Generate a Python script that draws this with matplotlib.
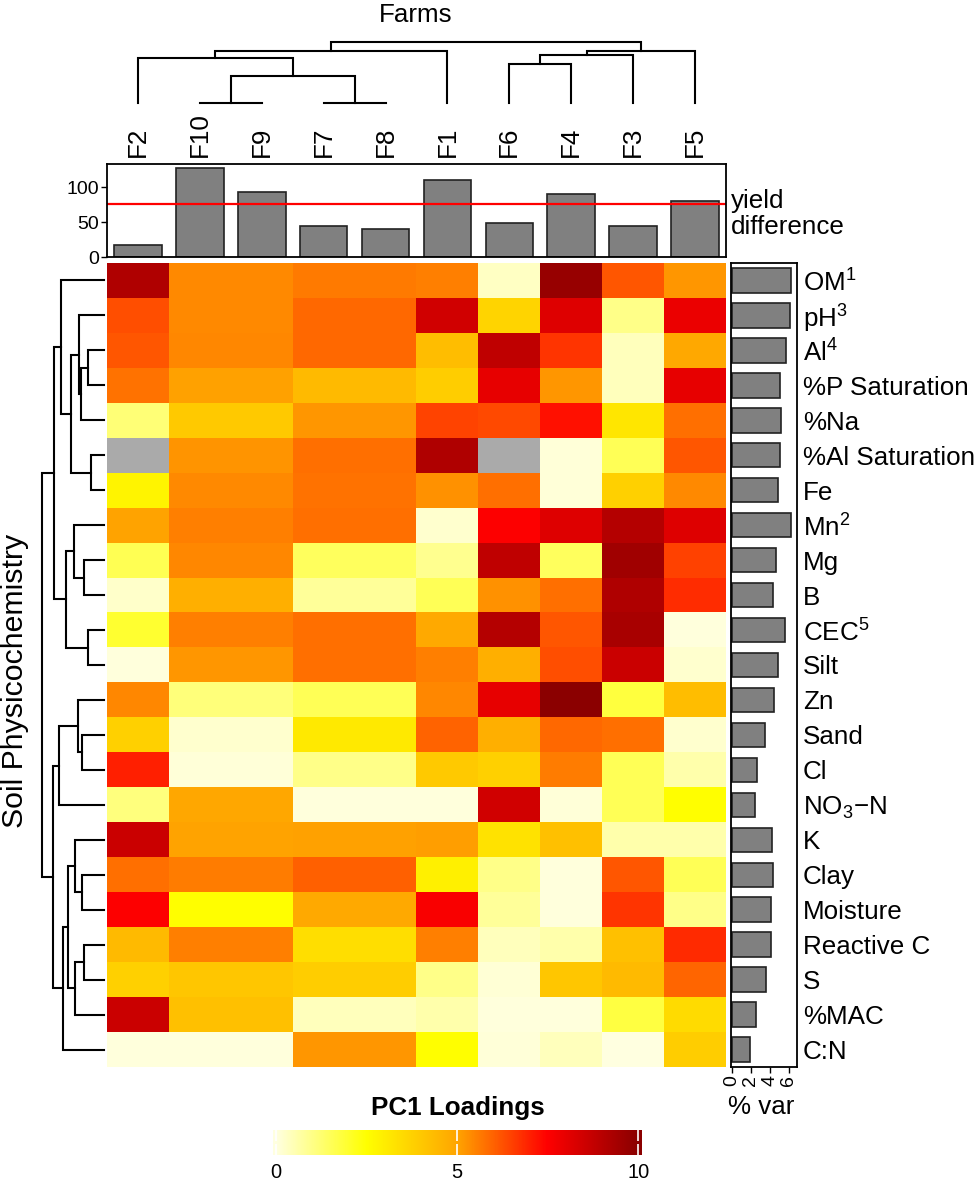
import numpy as np
import matplotlib
matplotlib.use('Agg')
import matplotlib.pyplot as plt
from matplotlib.colors import LinearSegmentedColormap

plt.rcParams['font.family'] = ['Liberation Sans', 'DejaVu Sans']
plt.rcParams['mathtext.fontset'] = 'custom'
plt.rcParams['mathtext.rm'] = 'Liberation Sans'
plt.rcParams['mathtext.it'] = 'Liberation Sans:italic'
plt.rcParams['mathtext.bf'] = 'Liberation Sans:bold'

# ---------------- data ----------------
farms = ['F2', 'F10', 'F9', 'F7', 'F8', 'F1', 'F6', 'F4', 'F3', 'F5']
yield_diff = [17, 127, 93, 45, 40, 110, 49, 90, 45, 80]
yield_ref = 76

variables = ['OM$^1$', 'pH$^3$', 'Al$^4$', '%P Saturation', '%Na', '%Al Saturation',
             'Fe', 'Mn$^2$', 'Mg', 'B', 'CEC$^5$', 'Silt', 'Zn', 'Sand', 'Cl',
             'NO$_3$\u2212N', 'K', 'Clay', 'Moisture', 'Reactive C', 'S', '%MAC', 'C:N']
pct_var = [6.18, 6.1, 5.65, 5.05, 5.12, 5.05, 4.84, 6.18, 4.63, 4.28, 5.54, 4.88,
           4.42, 3.47, 2.67, 2.47, 4.26, 4.37, 4.06, 4.14, 3.6, 2.54, 1.9]

nan = np.nan
loadings = [
    [9.2, 5.4, 5.4, 5.65, 5.65, 5.55, 0.35, 9.7, 6.2, 5.2],    # OM
    [6.3, 5.4, 5.4, 5.9, 5.9, 8.5, 3.7, 8.2, 1.0, 7.9],        # pH
    [6.2, 5.45, 5.45, 5.9, 5.9, 4.3, 8.85, 6.7, 0.4, 4.9],     # Al
    [5.75, 5.05, 5.05, 4.4, 4.4, 3.9, 8.0, 5.2, 0.4, 8.0],     # %P Sat
    [1.2, 4.0, 4.0, 5.2, 5.2, 6.45, 6.4, 7.26, 3.2, 5.8],      # %Na
    [nan, 5.25, 5.25, 5.8, 5.8, 9.2, nan, 0.1, 1.55, 6.2],     # %Al Sat
    [2.8, 5.4, 5.4, 5.75, 5.75, 5.3, 5.8, 0.1, 3.8, 5.4],      # Fe
    [5.0, 5.55, 5.55, 5.8, 5.8, 0.2, 7.5, 8.2, 9.1, 8.2],      # Mn
    [1.6, 5.45, 5.45, 1.45, 1.45, 0.9, 8.85, 1.45, 9.5, 6.5],  # Mg
    [0.25, 4.7, 4.7, 0.8, 0.8, 1.55, 5.3, 5.8, 9.2, 6.8],      # B
    [1.96, 5.55, 5.55, 5.8, 5.8, 4.85, 9.1, 6.2, 9.35, 0.05],  # CEC
    [0.05, 5.2, 5.2, 5.8, 5.8, 5.55, 4.7, 6.3, 8.6, 0.2],      # Silt
    [5.45, 1.17, 1.17, 1.55, 1.55, 5.45, 8.0, 10.0, 1.8, 4.3], # Zn
    [3.8, 0.2, 0.2, 3.1, 3.1, 6.0, 4.7, 5.9, 5.8, 0.2],        # Sand
    [7.0, 0.1, 0.1, 1.0, 1.0, 4.0, 3.8, 5.6, 1.55, 0.6],       # Cl
    [1.1, 4.95, 4.95, 0.05, 0.05, 0.05, 8.5, 0.1, 1.55, 2.5],  # NO3-N
    [8.6, 5.0, 5.0, 5.05, 5.05, 5.1, 3.3, 4.25, 0.6, 0.6],     # K
    [5.8, 5.6, 5.6, 6.05, 6.05, 2.9, 1.0, 0.05, 6.2, 1.55],    # Clay
    [7.5, 2.5, 2.5, 4.85, 4.85, 7.6, 0.8, 0.05, 6.7, 1.0],     # Moisture
    [4.4, 5.55, 5.55, 3.4, 3.4, 5.55, 0.4, 0.6, 4.25, 6.85],   # Reactive C
    [3.8, 4.1, 4.1, 3.9, 3.9, 1.0, 0.15, 4.1, 4.4, 5.95],      # S
    [8.6, 4.25, 4.25, 0.4, 0.4, 0.6, 0.05, 0.05, 1.76, 3.5],   # %MAC
    [0.05, 0.05, 0.05, 5.2, 5.2, 2.5, 0.1, 0.4, 0.0, 3.9],     # C:N
]

# column dendrogram merges (left, right, height); clusters named c0, c1, ...
col_merge_a = ['F10', 'F7', 'c0', 'F2', 'c3', 'F6', 'c5', 'c6', 'c4']
col_merge_b = ['F9', 'F8', 'c1', 'c2', 'F1', 'F4', 'F3', 'F5', 'c7']
col_merge_h = [0, 0, 27, 45, 52.3, 39, 48, 52, 61.3]

# row dendrogram merges (indices into variables, or clusters r0, r1, ...)
row_merge_a = [2, 'r0', 1, 5, 'r2', 0, 8, 7, 10, 'r7', 'r5', 13, 12, 'r12', 17, 16, 19, 'r16', 'r15', 'r18', 'r13', 'r10']
row_merge_b = [3, 4, 'r1', 6, 'r3', 'r4', 9, 'r6', 11, 'r8', 'r9', 14, 'r11', 15, 18, 'r14', 20, 21, 'r17', 22, 'r19', 'r20']
row_merge_h = [15.7, 23, 25, 13, 33.3, 43.3, 20, 29.7, 16.3, 38, 50, 22.3, 26.3, 44.7,
               22.3, 29, 20, 29, 35.7, 41.3, 50.7, 61.7]

# ---------------- helpers ----------------
W, H = 976, 1180
fig = plt.figure(figsize=(W / 100, H / 100), dpi=100)


def rect(l, t, r, b):
    return [l / W, 1 - b / H, (r - l) / W, (b - t) / H]


def ftext(x, y, s, **kw):
    return fig.text(x / W, 1 - y / H, s, **kw)


def dendro_segments(leaf_pos, ma, mb, mh, prefix):
    pos = dict(leaf_pos)
    hgt = {k: 0.0 for k in leaf_pos}
    segs = []
    for i, (a, b, h) in enumerate(zip(ma, mb, mh)):
        segs.append(([pos[a], pos[a], pos[b], pos[b]], [hgt[a], h, h, hgt[b]]))
        pos[prefix + str(i)] = (pos[a] + pos[b]) / 2
        hgt[prefix + str(i)] = h
    return segs


FS = 18.7
TFS = 14
cmap = LinearSegmentedColormap.from_list('pc1', ['#FFFFE0', '#FFFF00', '#FFA500', '#FF0000', '#8B0000'])
cmap.set_bad('#AAAAAA')

# ---------------- heatmap ----------------
ax_hm = fig.add_axes(rect(107, 263, 726, 1067))
M = np.ma.masked_invalid(np.array(loadings, dtype=float))
ax_hm.imshow(M, cmap=cmap, vmin=0, vmax=10, aspect='auto',
             extent=(0, len(farms), len(variables), 0), interpolation='nearest')
ax_hm.set_axis_off()

# ---------------- column dendrogram ----------------
ax_cd = fig.add_axes(rect(107, 35, 726, 103))
col_pos = {f: i + 0.5 for i, f in enumerate(farms)}
for xs, ys in dendro_segments(col_pos, col_merge_a, col_merge_b, col_merge_h, 'c'):
    ax_cd.plot(xs, ys, color='black', lw=1.5, clip_on=False, solid_joinstyle='miter')
ax_cd.set_xlim(0, len(farms))
ax_cd.set_ylim(0, 68)
ax_cd.set_axis_off()

# ---------------- row dendrogram ----------------
ax_rd = fig.add_axes(rect(38, 263, 104, 1067))
row_pos = {i: i + 0.5 for i in range(len(variables))}
for xs, ys in dendro_segments(row_pos, row_merge_a, row_merge_b, row_merge_h, 'r'):
    ax_rd.plot(ys, xs, color='black', lw=1.5, clip_on=False, solid_joinstyle='miter')
ax_rd.set_xlim(66, 0)
ax_rd.set_ylim(len(variables), 0)
ax_rd.set_axis_off()

# ---------------- top bar chart ----------------
ax_bar = fig.add_axes(rect(107, 164, 726, 257))
xc = np.arange(len(farms)) + 0.5
ax_bar.bar(xc, yield_diff, width=0.77, color='#808080', edgecolor='#222222', lw=1.2)
ax_bar.axhline(yield_ref, color='red', lw=1.6)
ax_bar.set_xlim(0, len(farms))
ax_bar.set_ylim(0, 133)
ax_bar.set_yticks([0, 50, 100])
ax_bar.tick_params(axis='y', labelsize=TFS, length=4, width=1, pad=2)
ax_bar.xaxis.tick_top()
ax_bar.set_xticks(xc)
ax_bar.set_xticklabels(farms, rotation=90, fontsize=FS)
ax_bar.tick_params(axis='x', length=0, pad=5)
for s in ax_bar.spines.values():
    s.set_linewidth(1.3)
ftext(731, 214, 'yield\ndifference', fontsize=FS, ha='left', va='center', linespacing=1.12)

# ---------------- right bar chart ----------------
ax_var = fig.add_axes(rect(731, 263, 797, 1067))
yc = np.arange(len(variables)) + 0.5
ax_var.barh(yc, pct_var, height=0.7, color='#808080', edgecolor='#222222', lw=1.2)
ax_var.set_ylim(len(variables), 0)
ax_var.set_xlim(-0.1, 6.85)
ax_var.set_xticks([0, 2, 4, 6])
ax_var.tick_params(axis='x', labelsize=TFS, labelrotation=90, length=4, width=1, pad=2)
ax_var.yaxis.tick_right()
ax_var.set_yticks(yc)
ax_var.set_yticklabels(variables, fontsize=FS)
ax_var.tick_params(axis='y', length=0, pad=4.3)
for s in ax_var.spines.values():
    s.set_linewidth(1.3)
ftext(761, 1107, '% var', fontsize=FS, ha='center', va='center')

# ---------------- labels ----------------
ftext(416, 15, 'Farms', fontsize=FS, ha='center', va='center')
ftext(15, 681, 'Soil Physicochemistry', fontsize=21.8, rotation=90, ha='center', va='center')

# ---------------- colour key ----------------
ax_cb = fig.add_axes(rect(273, 1130, 642, 1155))
lo, hi = -0.07, 10.1
grad = np.linspace(lo, hi, 600)[None, :]
ax_cb.imshow(grad, cmap=cmap, vmin=0, vmax=10, aspect='auto', extent=(lo, hi, 0, 1))
ax_cb.set_xlim(lo, hi)
ax_cb.set_ylim(0, 1)
ax_cb.set_yticks([])
ax_cb.set_xticks([0, 5, 10])
ax_cb.tick_params(axis='x', direction='in', top=True, bottom=True, length=8, width=1.2,
                  color='white', labelsize=14.4, pad=6)
for s in ax_cb.spines.values():
    s.set_visible(False)
ftext(458, 1108, 'PC1 Loadings', fontsize=FS, fontweight='bold', ha='center', va='center')

fig.savefig('out.png', dpi=100)
